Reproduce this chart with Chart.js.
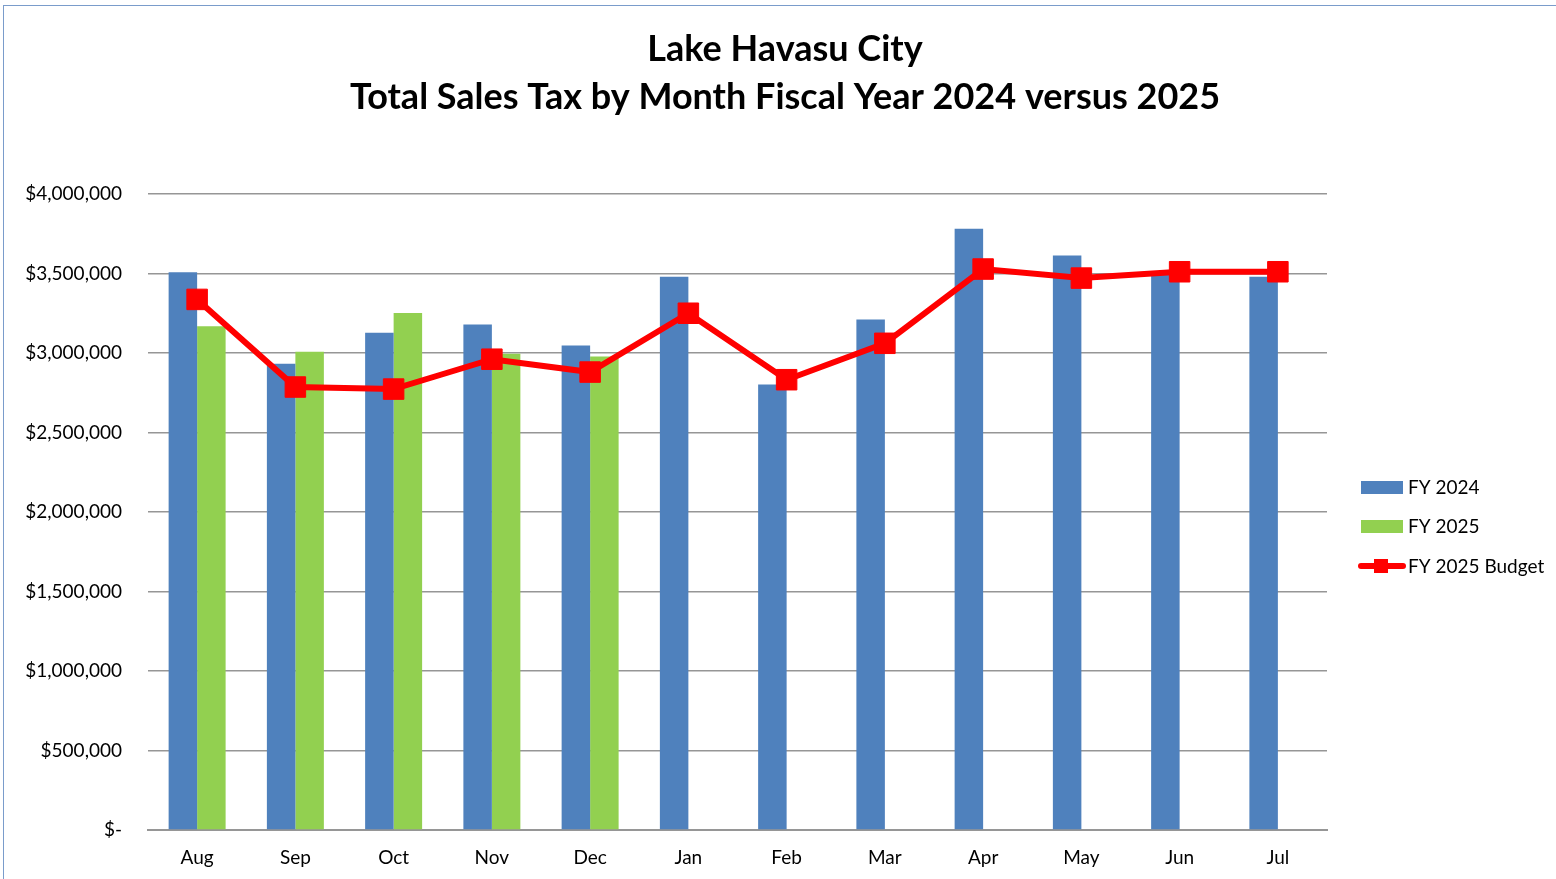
<!DOCTYPE html>
<html>
<head>
<meta charset="utf-8">
<script src="https://cdn.jsdelivr.net/npm/chart.js@4.4.1/dist/chart.umd.min.js"></script>
<style>
  html, body { margin: 0; padding: 0; background: #fff; overflow: hidden; }
  #wrap { position: relative; width: 1556px; height: 879px; }
  #frame { position: absolute; left: 3px; top: 5px; width: 1600px; height: 900px; border: 1.5px solid #7a9ccb; box-sizing: border-box; pointer-events: none; }
  canvas { position: absolute; left: 0; top: 0; }
</style>
</head>
<body>
<div id="wrap">
  <canvas id="chart" width="1556" height="879"></canvas>
  <div id="frame"></div>
</div>
<script>
// data
const months = ['Aug', 'Sep', 'Oct', 'Nov', 'Dec', 'Jan', 'Feb', 'Mar', 'Apr', 'May', 'Jun', 'Jul'];
const fy2024 = [3508000, 2932000, 3127000, 3179000, 3047000, 3480000, 2802000, 3210000, 3781000, 3613000, 3490000, 3480000];
const fy2025 = [3168000, 3008000, 3252000, 2995000, 2978000, null, null, null, null, null, null, null];
const fy2025Budget = [3337000, 2786000, 2773000, 2961000, 2880000, 3250000, 2832000, 3061000, 3528000, 3471000, 3511000, 3511000];
const yTicks = [0, 500000, 1000000, 1500000, 2000000, 2500000, 3000000, 3500000, 4000000];

const FONT = 'Lato, "Open Sans", sans-serif';
const BLUE = '#4f81bd';
const GREEN = '#92d050';
const RED = '#ff0000';

function money(v) {
    if (v === 0) return '$-';
    return '$' + v.toLocaleString('en-US');
}

// legend drawn to the right of the plot, Excel style
const sideLegend = {
    id: 'sideLegend',
    afterDraw(chart) {
        const ctx = chart.ctx;
        const items = [
            { text: 'FY 2024', color: BLUE, y: 487 },
            { text: 'FY 2025', color: GREEN, y: 526 },
            { text: 'FY 2025 Budget', color: RED, y: 566, line: true }
        ];
        ctx.save();
        ctx.font = '19px ' + FONT;
        ctx.textBaseline = 'middle';
        items.forEach(it => {
            if (it.line) {
                ctx.strokeStyle = it.color;
                ctx.lineWidth = 6;
                ctx.lineCap = 'round';
                ctx.beginPath();
                ctx.moveTo(1361, it.y);
                ctx.lineTo(1403, it.y);
                ctx.stroke();
                ctx.fillStyle = it.color;
                ctx.fillRect(1374, it.y - 7, 14, 14);
            } else {
                ctx.fillStyle = it.color;
                ctx.fillRect(1361, it.y - 6, 42, 13);
            }
            ctx.fillStyle = '#000';
            ctx.fillText(it.text, 1408, it.y + 1);
        });
        ctx.restore();
    }
};

new Chart(document.getElementById('chart'), {
    data: {
        labels: months,
        datasets: [
            {
                type: 'line',
                label: 'FY 2025 Budget',
                data: fy2025Budget,
                borderColor: RED,
                backgroundColor: RED,
                borderWidth: 6,
                pointStyle: 'rect',
                pointRadius: 14.5,
                pointBorderWidth: 1,
                pointBackgroundColor: RED,
                tension: 0,
                order: 0
            },
            {
                type: 'bar',
                label: 'FY 2024',
                data: fy2024,
                backgroundColor: BLUE,
                categoryPercentage: 0.58,
                barPercentage: 1.0,
                order: 1
            },
            {
                type: 'bar',
                label: 'FY 2025',
                data: fy2025,
                backgroundColor: GREEN,
                categoryPercentage: 0.58,
                barPercentage: 1.0,
                order: 2
            }
        ]
    },
    options: {
        responsive: false,
        animation: false,
        layout: { padding: { left: 14, right: 0, top: 0, bottom: 0 } },
        plugins: {
            legend: { display: false },
            tooltip: { enabled: false },
            title: {
                display: true,
                text: ['Lake Havasu City', 'Total Sales Tax by Month Fiscal Year 2024 versus 2025'],
                color: '#000',
                font: { family: FONT, size: 36, weight: 'bold', lineHeight: 48 / 36 },
                padding: { top: 25, bottom: 73 }
            }
        },
        scales: {
            x: {
                offset: true,
                grid: { display: false },
                border: { display: true, color: '#969696', width: 2 },
                ticks: { color: '#000', font: { family: FONT, size: 19 }, padding: 8 },
                afterFit(scale) { scale.height = 49; }
            },
            y: {
                min: 0,
                max: 4000000,
                afterBuildTicks(scale) { scale.ticks = yTicks.map(v => ({ value: v })); },
                grid: { color: '#969696', lineWidth: 1.5, drawTicks: false },
                border: { display: false },
                ticks: {
                    color: '#000',
                    font: { family: FONT, size: 19 },
                    padding: 26,
                    callback: v => money(v)
                },
                afterFit(scale) { scale.width = 134; }
            },
            // empty right-hand scale only reserves room for the legend
            side: {
                position: 'right',
                display: true,
                grid: { display: false },
                border: { display: false },
                ticks: { display: false },
                afterFit(scale) { scale.width = 229; }
            }
        }
    },
    plugins: [sideLegend]
});
</script>
</body>
</html>
